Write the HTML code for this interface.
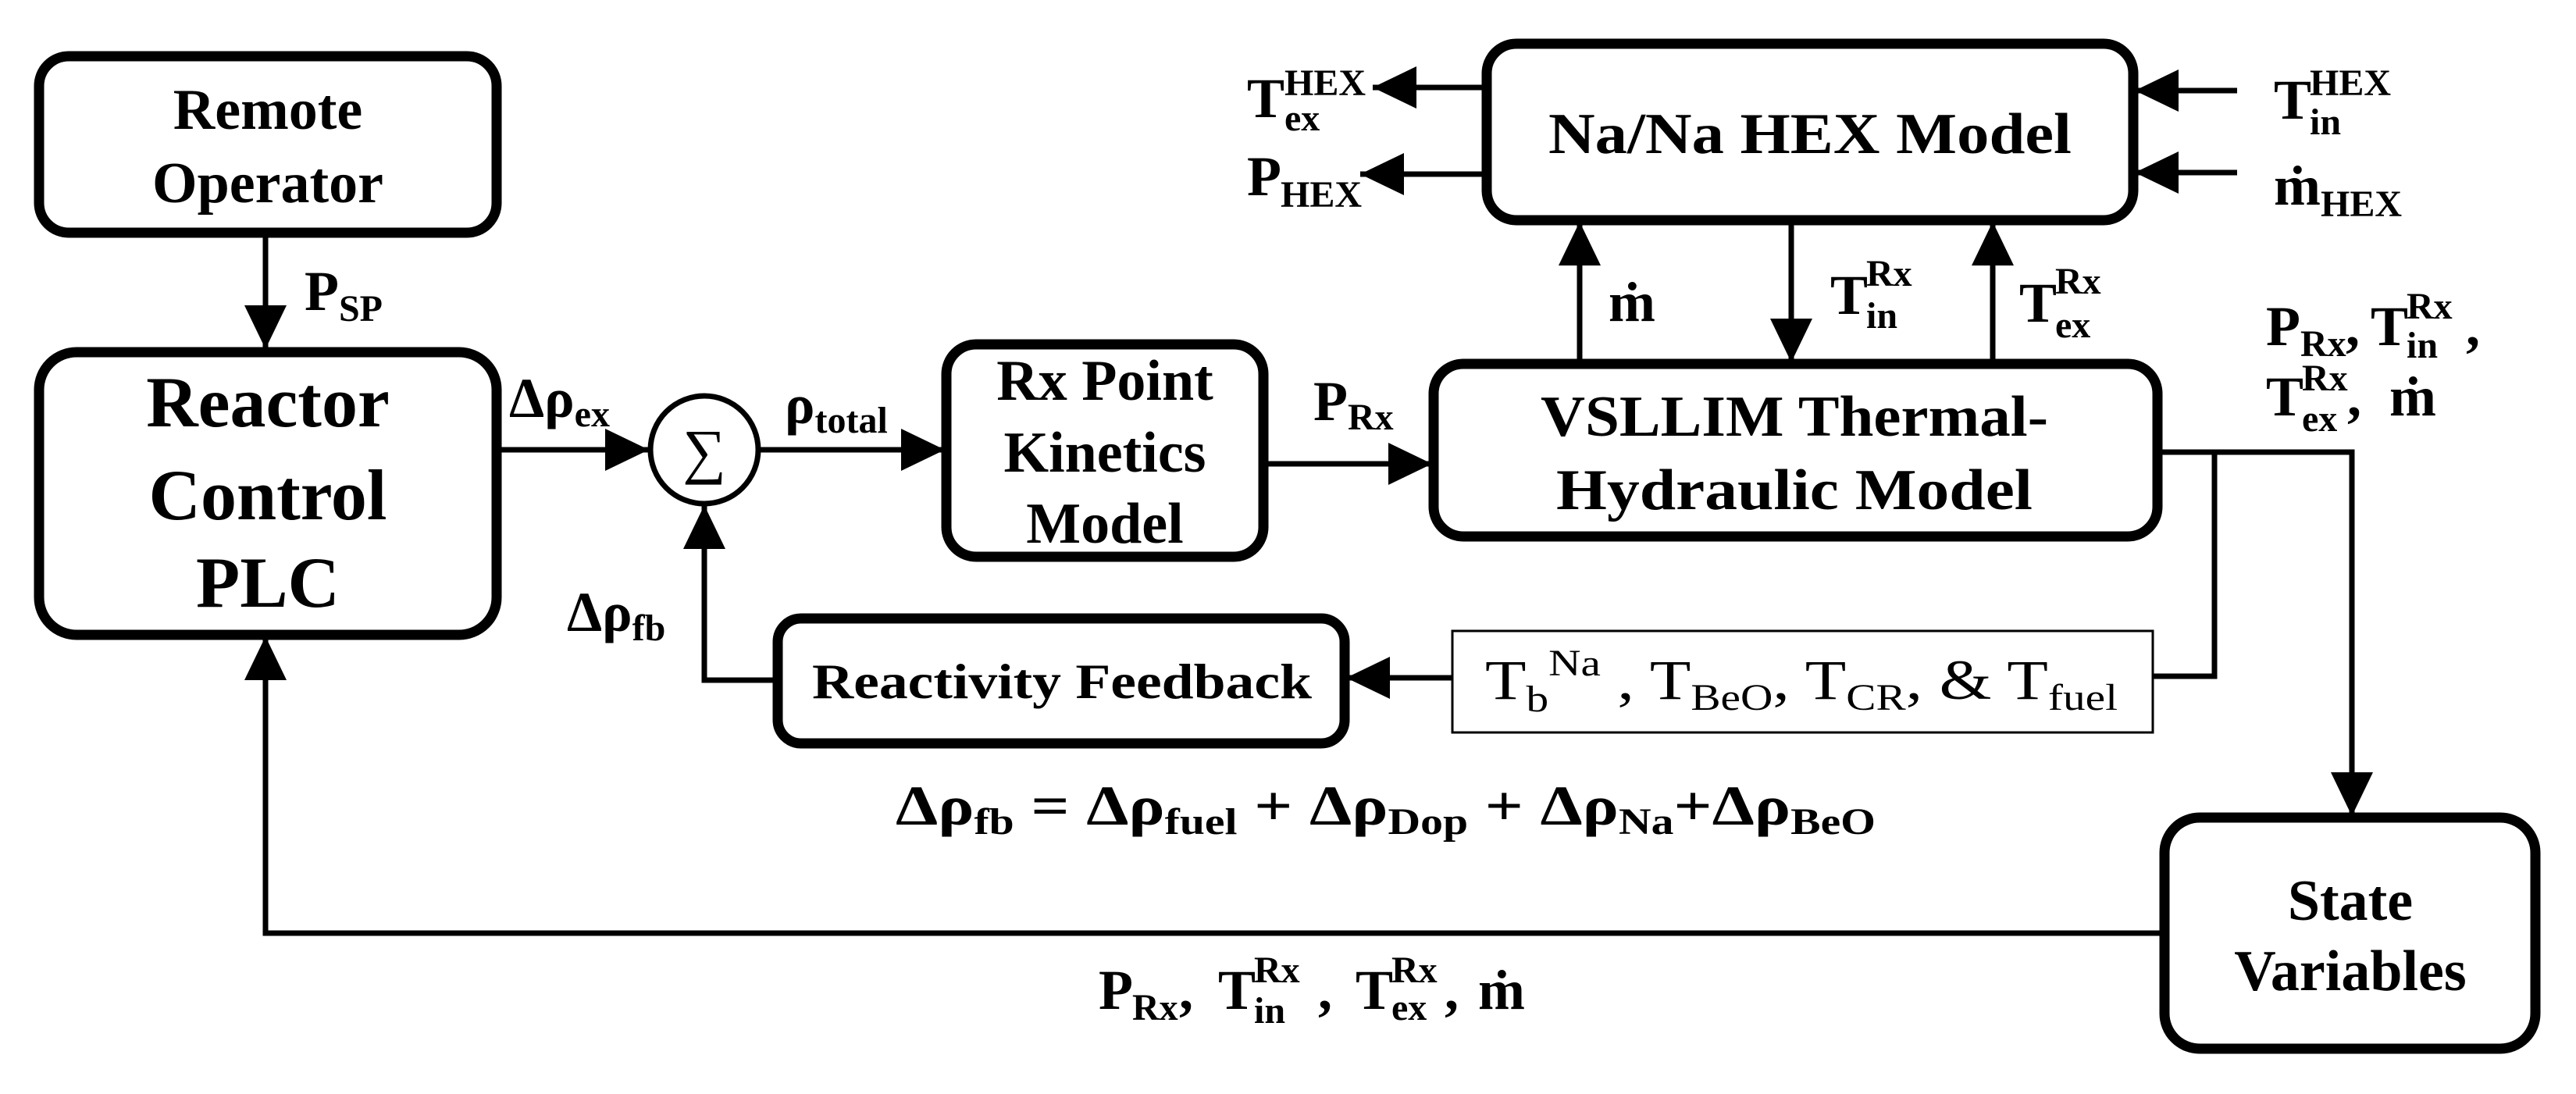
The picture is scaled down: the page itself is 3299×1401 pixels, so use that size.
<!DOCTYPE html>
<html><head><meta charset="utf-8"><style>
html,body{margin:0;padding:0;background:#fff;}
svg{display:block;}
text{font-family:"Liberation Serif",serif;fill:#000;}
.b{font-weight:bold;}
</style></head><body>
<svg width="3299" height="1401" viewBox="0 0 3299 1401" xmlns="http://www.w3.org/2000/svg">
<defs>
<marker id="ah" markerUnits="userSpaceOnUse" markerWidth="60" markerHeight="60" refX="56" refY="27" orient="auto">
<path d="M0,0 L56,27 L0,54 Z" fill="#000"/>
</marker>
</defs>
<g fill="none" stroke="#000" stroke-width="13">
<rect x="50" y="72" width="586" height="226" rx="38"/>
<rect x="50" y="451" width="586" height="362" rx="48"/>
<rect x="1212" y="441" width="406" height="272" rx="38"/>
<rect x="1904" y="56" width="828" height="226" rx="38"/>
<rect x="1836" y="466" width="927" height="221" rx="38"/>
<rect x="996" y="792" width="726" height="160" rx="30"/>
<rect x="2772" y="1047" width="475" height="296" rx="45"/>
</g>
<rect x="1860" y="808" width="897" height="130" fill="none" stroke="#000" stroke-width="3"/>
<circle cx="902" cy="576" r="69" fill="none" stroke="#000" stroke-width="7"/>
<text x="902" y="604" font-size="78" text-anchor="middle">∑</text>
<g stroke="#000" stroke-width="7" fill="none" marker-end="url(#ah)">
<line x1="340" y1="298" x2="340" y2="447"/>
<line x1="636" y1="576" x2="831" y2="576"/>
<line x1="971" y1="576" x2="1210" y2="576"/>
<line x1="1618" y1="594" x2="1834" y2="594"/>
<polyline points="996,871 902,871 902,647"/>
<line x1="1860" y1="868" x2="1724" y2="868"/>
<line x1="2023" y1="466" x2="2023" y2="284"/>
<line x1="2294" y1="282" x2="2294" y2="464"/>
<line x1="2552" y1="466" x2="2552" y2="284"/>
<line x1="1904" y1="112" x2="1758" y2="112"/>
<line x1="1904" y1="223" x2="1742" y2="223"/>
<line x1="2865" y1="116" x2="2734" y2="116"/>
<line x1="2865" y1="221" x2="2734" y2="221"/>
<polyline points="2763,579 3012,579 3012,1045"/>
<polyline points="2772,1195 340,1195 340,815"/>
</g>
<polyline points="2836,579 2836,866 2757,866" fill="none" stroke="#000" stroke-width="7"/>

<g class="b" font-size="74" text-anchor="middle">
<text x="343" y="165">Remote</text>
<text x="343" y="259">Operator</text>
<text x="343" y="546" font-size="92">Reactor</text>
<text x="343" y="665" font-size="92">Control</text>
<text x="343" y="777" font-size="92">PLC</text>
<text x="1415" y="512">Rx Point</text>
<text x="1415" y="604">Kinetics</text>
<text x="1415" y="695">Model</text>
<text x="2318" y="196" textLength="670" lengthAdjust="spacingAndGlyphs">Na/Na HEX Model</text>
<text x="2298" y="558" textLength="650" lengthAdjust="spacingAndGlyphs">VSLLIM Thermal-</text>
<text x="2298" y="652" textLength="610" lengthAdjust="spacingAndGlyphs">Hydraulic Model</text>
<text x="3010" y="1178">State</text>
<text x="3010" y="1268">Variables</text>
</g>
<text class="b" x="1040" y="894" font-size="64" textLength="640" lengthAdjust="spacingAndGlyphs">Reactivity Feedback</text>

<g class="b" font-size="72">
<text x="390" y="397">P<tspan font-size="48" dy="14">SP</tspan></text>
<text x="652" y="534">Δρ<tspan font-size="48" dy="12">ex</tspan></text>
<text x="1005" y="542">ρ<tspan font-size="48" dy="12">total</tspan></text>
<text x="726" y="808">Δρ<tspan font-size="48" dy="12">fb</tspan></text>
<text x="1682" y="538">P<tspan font-size="48" dy="12">Rx</tspan></text>
<text x="2060" y="411">ṁ</text>
<text x="2344" y="402">T</text><text x="2390" y="366" font-size="48">Rx</text><text x="2390" y="420" font-size="48">in</text>
<text x="2586" y="412">T</text><text x="2632" y="376" font-size="48">Rx</text><text x="2632" y="432" font-size="48">ex</text>
<text x="1597" y="150">T</text><text x="1645" y="122" font-size="48">HEX</text><text x="1645" y="167" font-size="48">ex</text>
<text x="1597" y="250">P</text><text x="1640" y="265" font-size="48">HEX</text>
<text x="2912" y="152">T</text><text x="2958" y="122" font-size="48">HEX</text><text x="2958" y="172" font-size="48">in</text>
<text x="2912" y="262">ṁ</text><text x="2972" y="277" font-size="48">HEX</text>
<text x="2902" y="442">P</text><text x="2946" y="456" font-size="48">Rx</text><text x="3004" y="442">,</text>
<text x="3036" y="442">T</text><text x="3082" y="408" font-size="48">Rx</text><text x="3082" y="458" font-size="48">in</text><text x="3158" y="442">,</text>
<text x="2902" y="532">T</text><text x="2948" y="500" font-size="48">Rx</text><text x="2948" y="552" font-size="48">ex</text><text x="3006" y="532">,</text><text x="3060" y="532">ṁ</text>
<text x="1147" y="1056" font-size="72" textLength="1255" lengthAdjust="spacingAndGlyphs">Δρ<tspan font-size="48" dy="12">fb</tspan><tspan dy="-12"> = Δρ</tspan><tspan font-size="48" dy="12">fuel</tspan><tspan dy="-12"> + Δρ</tspan><tspan font-size="48" dy="12">Dop</tspan><tspan dy="-12"> + Δρ</tspan><tspan font-size="48" dy="12">Na</tspan><tspan dy="-12">+Δρ</tspan><tspan font-size="48" dy="12">BeO</tspan></text>
<text x="1407" y="1292">P</text><text x="1450" y="1306" font-size="48">Rx</text><text x="1510" y="1292">,</text>
<text x="1560" y="1292">T</text><text x="1606" y="1258" font-size="48">Rx</text><text x="1606" y="1310" font-size="48">in</text><text x="1688" y="1292">,</text>
<text x="1736" y="1292">T</text><text x="1782" y="1258" font-size="48">Rx</text><text x="1782" y="1306" font-size="48">ex</text><text x="1850" y="1292">,</text>
<text x="1893" y="1292">ṁ</text>
</g>
<text x="1902" y="895" font-size="72" textLength="810" lengthAdjust="spacingAndGlyphs">T<tspan font-size="48" dy="16">b</tspan><tspan font-size="48" dy="-46">Na</tspan><tspan dy="30">  , T</tspan><tspan font-size="48" dy="14">BeO</tspan><tspan dy="-14">, T</tspan><tspan font-size="48" dy="14">CR</tspan><tspan dy="-14">, &amp; T</tspan><tspan font-size="48" dy="14">fuel</tspan></text>
</svg>
</body></html>
